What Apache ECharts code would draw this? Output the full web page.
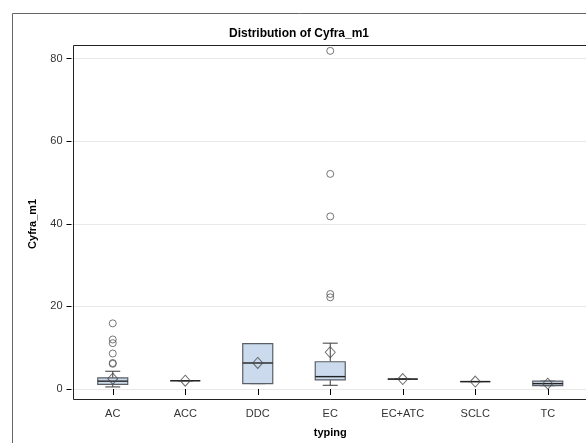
<!DOCTYPE html>
<html>
<head>
<meta charset="utf-8">
<title>Distribution of Cyfra_m1</title>
<script src="https://cdn.jsdelivr.net/npm/echarts@6/dist/echarts.min.js"></script>
<style>
  html, body { margin: 0; padding: 0; background: #fff; }
  #chart { width: 586px; height: 443px; }
</style>
</head>
<body>
<div id="chart"></div>
<script>
// Cyfra_m1 by tumour typing: box statistics per group
const categories   = ['AC', 'ACC', 'DDC', 'EC', 'EC+ATC', 'SCLC', 'TC'];
const whiskerLow   = [0.5, 2.0, 1.3, 0.9, 2.4, 1.8, 0.8];
const quartile1    = [1.1, 2.0, 1.3, 2.2, 2.4, 1.8, 0.8];
const medians      = [1.9, 2.0, 6.3, 3.0, 2.4, 1.8, 1.3];
const quartile3    = [2.7, 2.0, 11.0, 6.6, 2.4, 1.8, 1.9];
const whiskerHigh  = [4.3, 2.0, 11.0, 11.1, 2.4, 1.8, 1.9];
const means        = [2.5, 2.0, 6.3, 8.9, 2.4, 1.8, 1.3];
// outliers as [group index, value]
const outliers = [
  [0, 15.9], [0, 12.0], [0, 11.1], [0, 8.6], [0, 6.3], [0, 6.1],
  [3, 81.9], [3, 52.1], [3, 41.8], [3, 23.0], [3, 22.2]
];
const yTicks = { min: 0, max: 80, interval: 20 };

const FONT = "'Liberation Sans', Arial, Helvetica, sans-serif";
const TEXT = '#333';

const boxData = categories.map((c, i) => [i, whiskerLow[i], quartile1[i], medians[i], quartile3[i], whiskerHigh[i]]);
const meanData = means.map((m, i) => [i, m]);

function renderBox(params, api) {
  const i = api.value(0);
  const lo = api.coord([i, api.value(1)]);
  const q1 = api.coord([i, api.value(2)]);
  const md = api.coord([i, api.value(3)]);
  const q3 = api.coord([i, api.value(4)]);
  const hi = api.coord([i, api.value(5)]);
  const band = api.size([1, 0])[0];
  const half = band * 0.207;
  const cap = half * 0.5;
  const cx = md[0];
  const lineStyle = { stroke: '#3a3a3a', lineWidth: 1, fill: null };
  return {
    type: 'group',
    children: [
      { type: 'line', shape: { x1: cx, y1: q3[1], x2: cx, y2: hi[1] }, style: lineStyle },
      { type: 'line', shape: { x1: cx, y1: q1[1], x2: cx, y2: lo[1] }, style: lineStyle },
      { type: 'line', shape: { x1: cx - cap, y1: hi[1], x2: cx + cap, y2: hi[1] }, style: lineStyle },
      { type: 'line', shape: { x1: cx - cap, y1: lo[1], x2: cx + cap, y2: lo[1] }, style: lineStyle },
      { type: 'rect', shape: { x: cx - half, y: q3[1], width: half * 2, height: q1[1] - q3[1] },
        style: { fill: '#cbdbed', stroke: '#5a5f66', lineWidth: 1.2 } },
      { type: 'line', shape: { x1: cx - half, y1: md[1], x2: cx + half, y2: md[1] },
        style: { stroke: '#222', lineWidth: 1.4 } }
    ]
  };
}

const chart = echarts.init(document.getElementById('chart'), null, { renderer: 'canvas' });

chart.setOption({
  animation: false,
  backgroundColor: '#fff',
  textStyle: { fontFamily: FONT },
  title: {
    text: 'Distribution of Cyfra_m1',
    left: 294, top: 23, textAlign: 'center',
    textStyle: { fontFamily: FONT, fontSize: 12, fontWeight: 'bold', color: '#000' }
  },
  graphic: [
    { type: 'rect', left: 10, top: 11, silent: true, z: -10,
      shape: { width: 640, height: 480 },
      style: { fill: null, stroke: '#666', lineWidth: 1 } },
    { type: 'rect', left: 71, top: 43, silent: true, z: 10,
      shape: { width: 530, height: 354 },
      style: { fill: null, stroke: '#222', lineWidth: 1 } }
  ],
  grid: [
    // value scale with gridlines, spanning the full plot wall
    { left: 71.5, top: 58.7, width: 530, height: 330.3 },
    // category bands for the groups
    { left: 76.5, top: 58.7, width: 507.5, height: 330.3 }
  ],
  xAxis: [
    { gridIndex: 0, type: 'value', show: false, min: 0, max: 1 },
    {
      gridIndex: 1, type: 'category', data: categories, offset: 8,
      boundaryGap: true,
      axisLine: { show: false },
      axisTick: { show: true, alignWithLabel: true, length: 6, lineStyle: { color: '#000' } },
      axisLabel: { margin: 11, fontSize: 11, color: TEXT, fontFamily: FONT },
      name: 'typing', nameLocation: 'middle', nameGap: 30,
      nameTextStyle: { fontSize: 11, fontWeight: 'bold', color: '#000', fontFamily: FONT }
    }
  ],
  yAxis: [
    {
      gridIndex: 0, type: 'value', min: yTicks.min, max: yTicks.max, interval: yTicks.interval,
      axisLine: { show: false },
      axisTick: { show: true, length: 5, lineStyle: { color: '#000' } },
      axisLabel: { margin: 9, fontSize: 11, color: TEXT, fontFamily: FONT },
      splitLine: { show: true, lineStyle: { color: '#e8e8e8', width: 1 } },
      name: 'Cyfra_m1', nameLocation: 'middle', nameGap: 33,
      nameTextStyle: { fontSize: 11, fontWeight: 'bold', color: '#000', fontFamily: FONT }
    },
    { gridIndex: 1, type: 'value', show: false, min: yTicks.min, max: yTicks.max, splitLine: { show: false } }
  ],
  series: [
    {
      type: 'custom', xAxisIndex: 1, yAxisIndex: 1, clip: false,
      renderItem: renderBox,
      encode: { x: 0, y: [1, 2, 3, 4, 5] },
      data: boxData, z: 2
    },
    {
      type: 'scatter', xAxisIndex: 1, yAxisIndex: 1, clip: false,
      symbol: 'diamond', symbolSize: [10, 11],
      itemStyle: { color: 'rgba(0,0,0,0)', borderColor: '#4a4a4a', borderWidth: 1 },
      data: meanData, z: 3
    },
    {
      type: 'scatter', xAxisIndex: 1, yAxisIndex: 1, clip: false,
      symbol: 'circle', symbolSize: 7,
      itemStyle: { color: 'rgba(0,0,0,0)', borderColor: '#555', borderWidth: 1 },
      data: outliers, z: 3
    }
  ]
});
</script>
</body>
</html>
